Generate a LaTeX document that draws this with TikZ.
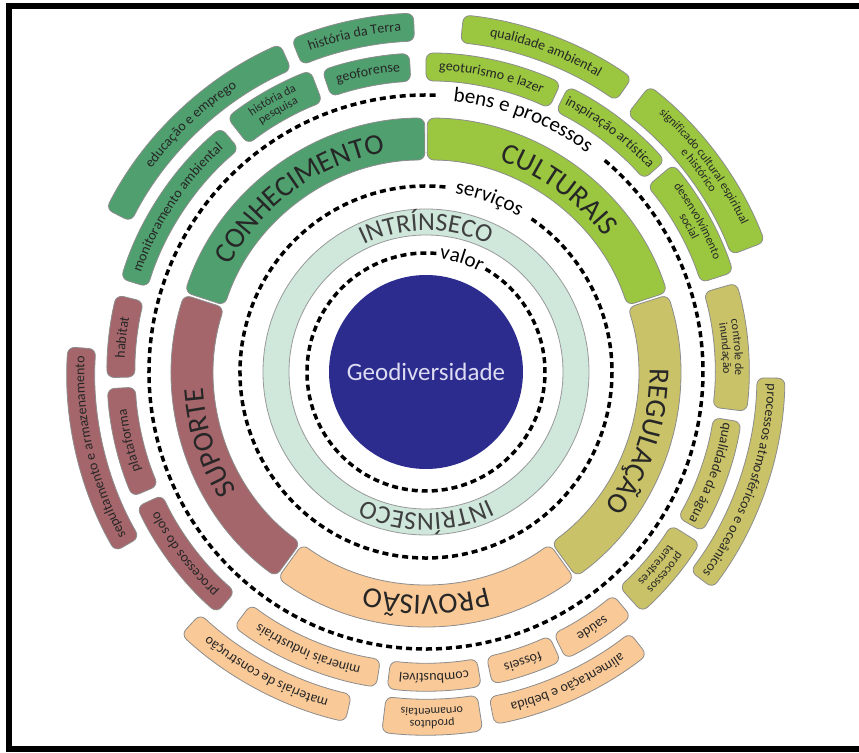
\documentclass[tikz,border=0pt]{standalone}
\usepackage{fontspec}
\setmainfont{Carlito}
\usetikzlibrary{decorations.text}

\definecolor{conhec}{HTML}{4F9F6F}
\definecolor{cultur}{HTML}{9AC640}
\definecolor{regul}{HTML}{C9C268}
\definecolor{provis}{HTML}{F9C998}
\definecolor{suport}{HTML}{A5666B}
\definecolor{mint}{HTML}{CFE8DB}
\definecolor{geoblue}{HTML}{2C2B8E}
\definecolor{geotext}{HTML}{DCDCF2}

\newcommand{\itemfont}{\fontsize{14}{14}\selectfont\color{black!85}}
\newcommand{\smallitemfont}{\fontsize{12}{12}\selectfont\color{black!85}}
\newcommand{\sectfont}{\fontsize{29}{29}\selectfont\color{black!85}}
\newcommand{\ringfont}{\fontsize{26}{26}\selectfont\color{black!75}}
\newcommand{\dashlabelfont}{\fontsize{21}{21}\selectfont}

% annular sector: colour, from, to, inner r, outer r
\newcommand{\band}[5]{%
  \draw[bandline, fill=#1] (#2:#4 pt) arc[start angle=#2, end angle=#3, radius=#4 pt]
    -- (#3:#5 pt) arc[start angle=#3, end angle=#2, radius=#5 pt] -- cycle;}

% text running clockwise on an arc: from, to, radius, font, text
\newcommand{\arctext}[5]{%
  \path[decorate, decoration={text along path, text align=center, text={|#4|#5}}]
    (#1:#3 pt) arc[start angle=#1, end angle=#2, radius=#3 pt];}

% one service box, one line
\newcommand{\servbox}[6]{%
  \band{#1}{#2}{#3}{#4}{#5}
  \pgfmathsetmacro{\rtxt}{(#4+#5)/2-3.3}
  \pgfmathsetmacro{\afrom}{#3+5}
  \pgfmathsetmacro{\ato}{#2-5}
  \arctext{\afrom}{\ato}{\rtxt}{\itemfont}{#6}}

% one service box, two lines
\newcommand{\servboxii}[7]{%
  \band{#1}{#2}{#3}{#4}{#5}
  \pgfmathsetmacro{\rtxta}{(#4+#5)/2+3.2}
  \pgfmathsetmacro{\rtxtb}{(#4+#5)/2-8.8}
  \pgfmathsetmacro{\afrom}{#3+5}
  \pgfmathsetmacro{\ato}{#2-5}
  \arctext{\afrom}{\ato}{\rtxta}{\smallitemfont}{#6}
  \arctext{\afrom}{\ato}{\rtxtb}{\smallitemfont}{#7}}

\begin{document}
\begin{tikzpicture}[x=1pt, y=1pt,
  bandline/.style={draw=black!45, line width=0.8pt, rounded corners=7pt},
  dashring/.style={draw=black, line width=3.5pt, dash pattern=on 6pt off 4pt}]
  \useasboundingbox (-426,-380) rectangle (433,372);
  \draw[line width=6pt] (440,366) -- (-417,366) -- (-417,-377) -- (440,-377);

  % centre
  \node[circle, fill=geoblue, minimum size=194pt, inner sep=0pt,
        text=geotext, font=\fontsize{25}{25}\selectfont] (geo) at (0,0) {Geodiversidade};

  % valor
  \draw[dashring] (85:119pt) arc[start angle=85, end angle=420, radius=119pt];
  \arctext{100}{45}{114}{\dashlabelfont}{valor}

  % intrinsic ring
  \draw[draw=black!40, line width=0.8pt, fill=mint, even odd rule]
    (0,0) circle[radius=163pt] (0,0) circle[radius=137pt];
  \arctext{150}{30}{141.6}{\ringfont}{INTRÍNSECO}
  \arctext{-30}{-150}{141.6}{\ringfont}{INTRÍNSECO}

  % servicos
  \draw[dashring] (84:186pt) arc[start angle=84, end angle=416, radius=186pt];
  \arctext{95}{45}{181}{\dashlabelfont}{serviços}

  % five service groups
  \band{conhec}{90.3}{161.7}{212}{254}
  \band{cultur}{18.3}{89.7}{212}{254}
  \band{regul}{-53.7}{17.7}{212}{254}
  \band{provis}{-125.7}{-54.3}{212}{254}
  \band{suport}{162.3}{233.7}{212}{254}
  \arctext{161.7}{90.3}{223.7}{\sectfont}{CONHECIMENTO}
  \arctext{89.7}{18.3}{223.7}{\sectfont}{CULTURAIS}
  \arctext{17.7}{-53.7}{223.7}{\sectfont}{REGULAÇÃO}
  \arctext{-54.3}{-125.7}{223.7}{\sectfont}{PROVISÃO}
  \arctext{233.7}{162.3}{223.7}{\sectfont}{SUPORTE}

  % bens e processos
  \draw[dashring] (88:277pt) arc[start angle=88, end angle=410, radius=277pt];
  \arctext{100}{38}{272}{\dashlabelfont}{bens e processos}

  % inner boxes
  \servbox{suport}{166}{181}{291}{319}{habitat}
  \servbox{suport}{183}{203}{291}{319}{plataforma}
  \servbox{suport}{205}{229}{291}{319}{processos do solo}
  \servbox{provis}{233}{261}{291}{319}{minerais industriais}
  \servbox{provis}{263}{280}{291}{319}{combustível}
  \servbox{provis}{282}{295}{291}{319}{fósseis}
  \servbox{provis}{296}{310}{291}{319}{saúde}
  \servboxii{regul}{312}{328}{289}{323}{processos}{terrestres}
  \servbox{regul}{330}{351}{291}{319}{qualidade da água}
  \servboxii{regul}{353}{376}{289}{323}{controle de}{inundação}
  \servboxii{cultur}{18}{40}{289}{323}{desenvolvimento}{social}
  \servbox{cultur}{41.5}{63.5}{291}{319}{inspiração artística}
  \servbox{cultur}{65}{90}{291}{319}{geoturismo e lazer}
  \servbox{conhec}{93}{109}{291}{319}{geoforense}
  \servboxii{conhec}{111}{128}{289}{323}{história da}{pesquisa}
  \servbox{conhec}{130}{163}{291}{319}{monitoramento ambiental}

  % outer boxes
  \servbox{suport}{176}{210}{331}{359}{sepultamento e armazenamento}
  \servbox{provis}{227}{257}{331}{359}{materiais de construção}
  \servboxii{provis}{263}{279}{327}{363}{produtos}{ornamentais}
  \servbox{provis}{281}{308}{331}{359}{alimentação e bebida}
  \servbox{regul}{323}{359}{331}{359}{processos atmosféricos e oceânicos}
  \servboxii{cultur}{21}{52}{327}{363}{significado cultural espiritual}{e histórico}
  \servbox{cultur}{55}{84}{331}{359}{qualidade ambiental}
  \servbox{conhec}{92}{112}{331}{359}{história da Terra}
  \servbox{conhec}{114}{153}{331}{359}{educação e emprego}
\end{tikzpicture}
\end{document}
